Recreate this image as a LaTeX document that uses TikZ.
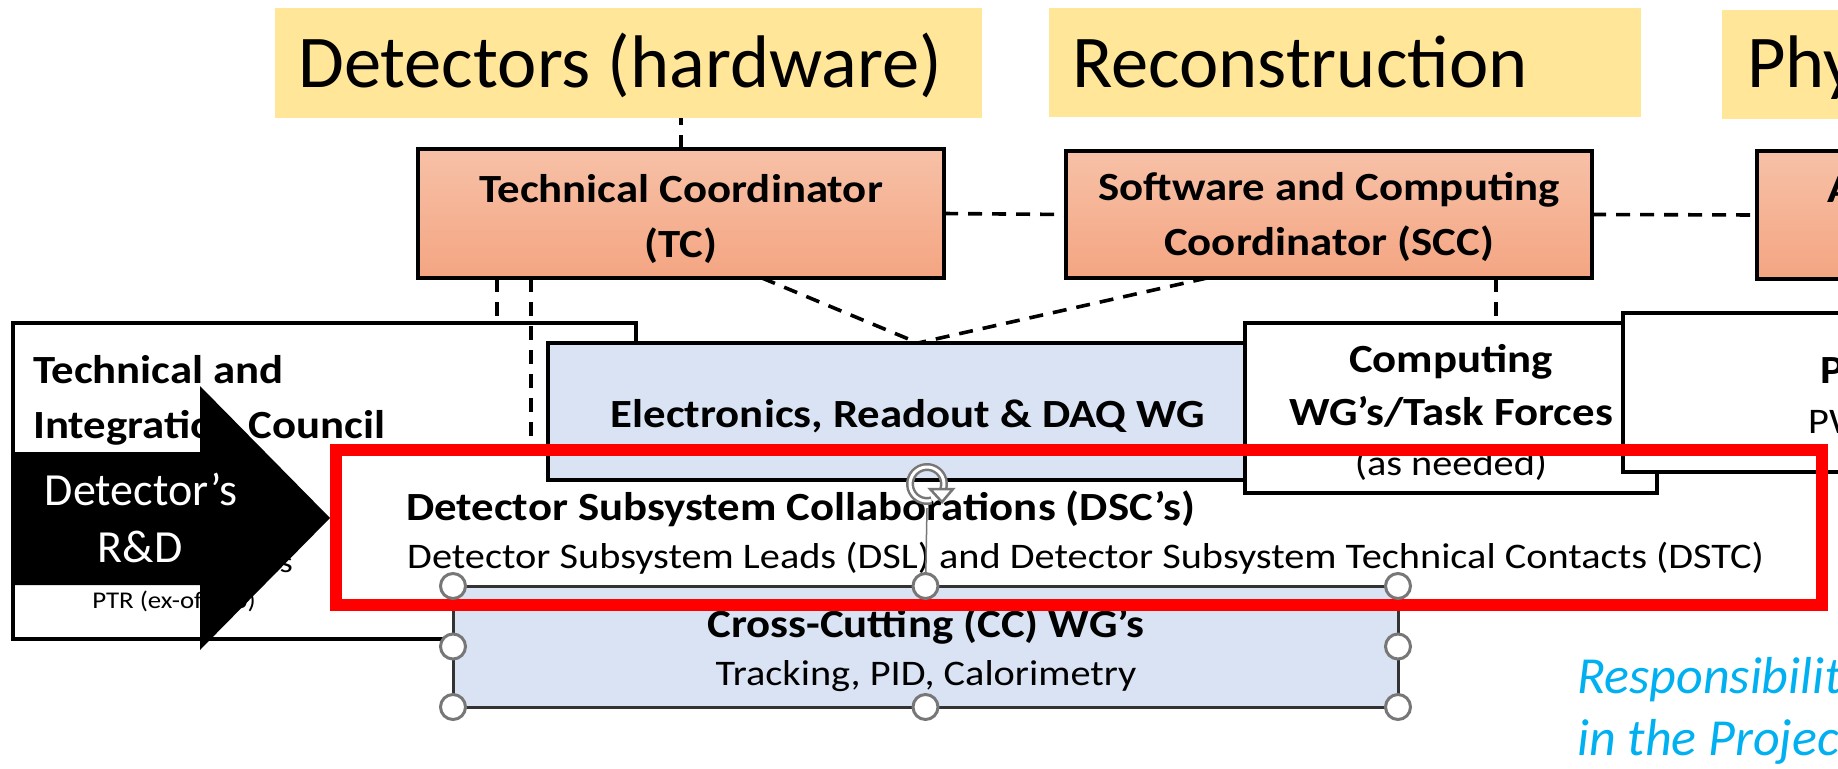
\documentclass[tikz,border=0pt]{standalone}
\usepackage{fontspec}
\setmainfont{Carlito}
\newfontfamily\chartfont[FakeStretch=1.12]{Carlito}
\usetikzlibrary{calc}
\definecolor{bannerY}{HTML}{FFE699}
\definecolor{orTop}{HTML}{F7C1A7}
\definecolor{orBot}{HTML}{F4A582}
\definecolor{lblue}{HTML}{DAE3F3}
\definecolor{respblue}{HTML}{00B0F0}
\definecolor{hgray}{HTML}{777777}
\begin{document}
\begin{tikzpicture}[x=1pt,y=-1pt,
  box/.style={draw=black, line width=3.5pt, inner sep=0pt, outer sep=0pt, anchor=center},
  orbox/.style={box, top color=orTop, bottom color=orBot},
  wbox/.style={box, fill=white},
  bbox/.style={box, fill=lblue},
  banbox/.style={fill=bannerY, draw=none, inner sep=0pt, outer sep=0pt},
  bantext/.style={inner sep=0pt, font=\fontsize{74.5}{88}\selectfont},
  bt/.style={inner sep=0pt, font=\chartfont\bfseries\fontsize{40}{48}\selectfont},
  rt/.style={inner sep=0pt, font=\chartfont\fontsize{36}{42}\selectfont},
  st/.style={inner sep=0pt, font=\chartfont\fontsize{24}{30}\selectfont},
  dline/.style={draw=black, line width=3.6pt, dash pattern=on 14pt off 10pt},
  handle/.style={circle, draw=hgray, line width=3pt, fill=white, minimum size=25pt, inner sep=0pt},
  arrtext/.style={inner sep=0pt, text=white, font=\fontsize{46}{55}\selectfont},
  resp/.style={inner sep=0pt, text=respblue, font=\itshape\fontsize{52}{62}\selectfont}
]
\path[use as bounding box] (0,0) rectangle (1838,768);
\clip (0,0) rectangle (1838,768);
\fill[white] (0,0) rectangle (1838,768);

% banners
\node[banbox, minimum width=707pt, minimum height=110pt] (ban1) at (628.5,63) {};
\node[banbox, minimum width=592pt, minimum height=109pt] (ban2) at (1345,62.5) {};
\node[banbox, minimum width=200pt, minimum height=109pt] (ban3) at (1822,64.5) {};
\node[bantext, anchor=base west] (ban1t) at (298,88) {Detectors (hardware)};
\node[bantext, anchor=base west] (ban2t) at (1072,88) {Reconstruction};
\node[bantext, anchor=base west] (ban3t) at (1747,88) {Physics};

% orange coordinator boxes
\node[orbox, minimum width=526pt, minimum height=129pt] (tc) at (681,213.5) {};
\node[orbox, minimum width=526pt, minimum height=127pt] (scc) at (1329,214.5) {};
\node[orbox, minimum width=180pt, minimum height=128pt] (anc) at (1847,215) {};
\node[bt, anchor=base] (tc1) at (681,202) {Technical Coordinator};
\node[bt, anchor=base] (tc2) at (681,257) {(TC)};
\node[bt, anchor=base] (scc1) at (1329,200) {Software and Computing};
\node[bt, anchor=base] (scc2) at (1329,255) {Coordinator (SCC)};
\node[bt, anchor=base west] (anc1) at (1827,202) {Analysis Coordinator};

% lower boxes
\node[wbox, minimum width=623pt, minimum height=316pt] (tic) at (324.5,481) {};
\node[fill=white, draw=none, inner sep=0pt, outer sep=0pt, minimum width=1486pt, minimum height=155pt] (dsc) at (1079,527.5) {};
\node[bbox, minimum width=722pt, minimum height=137pt] (elec) at (909,411.5) {};
\node[wbox, minimum width=412pt, minimum height=170pt] (comp) at (1451,408) {};
\node[wbox, minimum width=277pt, minimum height=159pt] (phys) at (1761.5,392.5) {};
\node[bbox, draw=black!80, line width=3pt, minimum width=945pt, minimum height=121pt] (cc) at (925.5,646.5) {};

% dashed connectors
\draw[dline] (tc.north) -- (tc.north |- ban1.south);
\draw[dline] (tc.east) -- (scc.west);
\draw[dline] (scc.east) -- (anc.west);
\draw[dline] ([xshift=-184pt]tc.south) -- ([xshift=-184pt]tc.south |- tic.north);
\draw[dline] ([xshift=-150pt]tc.south) -- ([xshift=-150pt]tc.south |- dsc.north);
\draw[dline] ([xshift=81pt]tc.south) -- ([xshift=9pt]elec.north);
\draw[dline] ([xshift=-122pt]scc.south) -- ([xshift=9pt]elec.north);
\draw[dline] ([xshift=167pt]scc.south) -- ([xshift=167pt]scc.south |- comp.north);

% texts of lower boxes
\node[rt, font=\chartfont\fontsize{30}{36}\selectfont, anchor=base east] (tic3) at (293,572) {Leads};
\node[bt, anchor=base west] (tic1) at (33,383) {Technical and};
\node[bt, anchor=base west] (tic2) at (33,438) {Integration Council};
\node[st, anchor=base] (tic4) at (174,608) {PTR (ex-officio)};
\node[bt, anchor=base] (elect) at (908,427) {Electronics, Readout \& DAQ WG};
\node[bt, anchor=base] (comp1) at (1451,372) {Computing};
\node[bt, anchor=base] (comp2) at (1451,425) {WG’s/Task Forces};
\node[rt, anchor=base] (comp3) at (1451,475) {(as needed)};
\node[bt, anchor=base west] (phys1) at (1820,383) {Physics WG’s};
\node[rt, anchor=base west] (phys2) at (1808,433) {PWG Conveners};
\node[bt, anchor=base west] (dsc1) at (406,520) {Detector Subsystem Collaborations (DSC’s)};
\node[rt, anchor=base west] (dsc2) at (407,568) {Detector Subsystem Leads (DSL) and Detector Subsystem Technical Contacts (DSTC)};
\node[bt, anchor=base] (cc1) at (926,637) {Cross-Cutting (CC) WG’s};
\node[rt, anchor=base] (cc2) at (926,685) {Tracking, PID, Calorimetry};

% red highlight
\draw[red, line width=12pt] (336,450) rectangle (1822,605);

% black arrow
\fill[black] (13,452) -- (200,452) -- (200,386) -- (330,518) -- (200,650) -- (200,585) -- (13,585) -- cycle;
\node[arrtext, anchor=base] (ar1) at (141,505) {Detector’s};
\node[arrtext, anchor=base] (ar2) at (140,562) {R\&D};

% selection handles
\node[inner sep=0pt, minimum size=0pt] (rot) at (927,484) {};
\draw[hgray, line width=1.5pt] ([yshift=-24pt]rot.center) -- (cc.north);
\draw[hgray, line width=8pt] (rot.center) ++(30:17) arc[start angle=30, end angle=-285, radius=17];
\draw[white, line width=3pt] (rot.center) ++(30:17) arc[start angle=30, end angle=-285, radius=17];
\filldraw[fill=white, draw=hgray, line width=2.5pt] ([shift={(3pt,-5pt)}]rot.center) -- ([shift={(26pt,-5pt)}]rot.center) -- ([shift={(15pt,-18pt)}]rot.center) -- cycle;
\foreach \a [count=\i] in {north west,north,north east,west,east,south west,south,south east}
  \node[handle] (h\i) at (cc.\a) {};

% blue note
\node[resp, anchor=base west] (resp1) at (1577,693) {Responsibilities};
\node[resp, anchor=base west] (resp2) at (1577,755) {in the Project};
\end{tikzpicture}
\end{document}
